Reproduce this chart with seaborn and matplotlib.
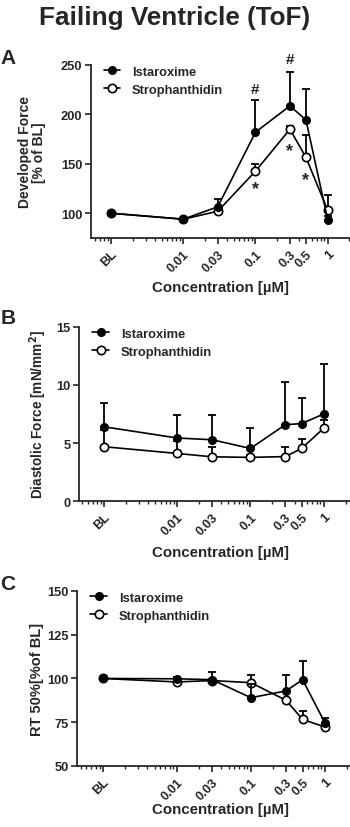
import numpy as np
import pandas as pd
import matplotlib
matplotlib.use("Agg")
import matplotlib.pyplot as plt
import seaborn as sns
from matplotlib.ticker import LogLocator, NullFormatter, FixedLocator, FixedFormatter

# ---------------- data ----------------
conc = [0.001, 0.01, 0.03, 0.1, 0.3, 0.5, 1.0]
conc_labels = ["BL", "0.01", "0.03", "0.1", "0.3", "0.5", "1"]

# Panel A: Developed force [% of BL]
dev_ist = [100, 94, 106.5, 182, 208.6, 194.4, 93.6]
dev_ist_err = [0, 1, 7.5, 33, 34, 31, 4]
dev_str = [100, 94, 102, 142.6, 185, 156.5, 103]
dev_str_err = [0, 1, 2, 7, 3, 23, 15]

# Panel B: Diastolic force [mN/mm2]
dia_ist = [6.4, 5.43, 5.28, 4.53, 6.58, 6.67, 7.5]
dia_ist_err = [2.06, 2.02, 2.17, 1.74, 3.67, 2.19, 4.28]
dia_str = [4.68, 4.1, 3.81, 3.76, 3.83, 4.53, 6.27]
dia_str_err = [1.4, 1.04, 0.81, 0.2, 0.79, 0.81, 0.73]

# Panel C: RT 50% [% of BL]
rt_ist = [100, 99.8, 99.3, 89, 92.9, 99.3, 74.7]
rt_ist_err = [0, 1.2, 4.3, 8, 8.9, 10.5, 2.7]
rt_str = [100, 98, 98.8, 97.6, 87.5, 76.6, 72.3]
rt_str_err = [0, 1, 1, 4.6, 1, 4.8, 1]

series_names = ["Istaroxime", "Strophanthidin"]

# ---------------- style ----------------
sns.set_theme(style="ticks")
plt.rcParams["font.family"] = ["Liberation Sans", "DejaVu Sans"]
plt.rcParams["font.weight"] = "bold"
plt.rcParams["axes.labelweight"] = "bold"

fig = plt.figure(figsize=(3.5, 8.28), dpi=100)

fig.text(0.5, 0.978, "Failing Ventricle (ToF)", ha="center", va="center",
         fontsize=18.8, fontweight="bold")

panels = [
    dict(letter="A", rect=[0.259, 0.7114, 0.741, 0.2089], xlim=(-3.283, 0.309),
         ylim=(75, 250), yticks=[100, 150, 200, 250],
         ylabel="Developed Force\n[% of BL]", ylabel_fs=10.0,
         ylabel_family=["Liberation Sans Narrow", "Liberation Sans", "DejaVu Sans"],
         ist=dev_ist, ist_err=dev_ist_err,
         str_=dev_str, str_err=dev_str_err, letter_y=59, xlabel_y=288, ylabel_x=32),
    dict(letter="B", rect=[0.226, 0.3937, 0.774, 0.2102], xlim=(-3.34, 0.36),
         ylim=(0, 15), yticks=[0, 5, 10, 15],
         ylabel="Diastolic Force [mN/mm$\\mathbf{^2}$]", ylabel_fs=9.8,
         ylabel_family=["Liberation Sans", "DejaVu Sans"],
         ist=dia_ist, ist_err=dia_ist_err,
         str_=dia_str, str_err=dia_str_err, letter_y=319, xlabel_y=553, ylabel_x=38),
    dict(letter="C", rect=[0.220, 0.0737, 0.780, 0.2114], xlim=(-3.35, 0.34),
         ylim=(50, 150), yticks=[50, 75, 100, 125, 150],
         ylabel="RT 50%[%of BL]", ylabel_fs=10.5,
         ylabel_family=["Liberation Sans", "DejaVu Sans"],
         ist=rt_ist, ist_err=rt_ist_err,
         str_=rt_str, str_err=rt_str_err, letter_y=585, xlabel_y=810, ylabel_x=37),
]

W, H = 350, 828
axes = []
for p in panels:
    ax = fig.add_axes(p["rect"])
    axes.append(ax)
    df = pd.DataFrame({"conc": conc * 2,
                       "value": list(p["str_"]) + list(p["ist"]),
                       "series": [series_names[1]] * len(conc) + [series_names[0]] * len(conc)})
    # error bars (upper only)
    for vals, errs, z in [(p["str_"], p["str_err"], 2), (p["ist"], p["ist_err"], 4)]:
        ax.errorbar(conc, vals, yerr=[np.zeros(len(errs)), errs], fmt="none",
                    ecolor="black", elinewidth=1.3, capsize=2.6, capthick=1.3, zorder=z)
    sns.lineplot(data=df[df.series == series_names[1]], x="conc", y="value", ax=ax,
                 color="black", lw=1.2, marker="o", markersize=6, markerfacecolor="white",
                 markeredgecolor="black", markeredgewidth=1.2, zorder=3,
                 label=series_names[1], legend=False)
    sns.lineplot(data=df[df.series == series_names[0]], x="conc", y="value", ax=ax,
                 color="black", lw=1.2, marker="o", markersize=5.5, markerfacecolor="black",
                 markeredgecolor="black", markeredgewidth=1.0, zorder=5,
                 label=series_names[0], legend=False)
    ax.set_xscale("log")
    ax.set_xlim(10 ** p["xlim"][0], 10 ** p["xlim"][1])
    ax.set_ylim(*p["ylim"])
    ax.set_yticks(p["yticks"])
    ax.xaxis.set_major_locator(FixedLocator(conc))
    ax.xaxis.set_major_formatter(FixedFormatter(conc_labels))
    ax.xaxis.set_minor_locator(LogLocator(base=10, subs=np.arange(2, 10)))
    ax.xaxis.set_minor_formatter(NullFormatter())
    for lab in ax.get_xticklabels():
        lab.set_rotation(45)
        lab.set_ha("right")
        lab.set_rotation_mode("anchor")
    ax.tick_params(axis="both", which="major", labelsize=9.3, width=1.2, length=4, pad=2)
    ax.tick_params(axis="x", which="minor", width=1.0, length=2.2)
    ax.tick_params(axis="x", which="major", pad=3)
    for lab in ax.get_xticklabels() + ax.get_yticklabels():
        lab.set_fontweight("bold")
    sns.despine(ax=ax)
    for s in ["left", "bottom"]:
        ax.spines[s].set_linewidth(1.3)
    ax.set_xlabel("")
    ax.set_ylabel("")
    fig.text(0.63, 1 - p["xlabel_y"] / H, "Concentration [µM]", ha="center", va="center",
             fontsize=10.8, fontweight="bold")
    ymid = p["rect"][1] + p["rect"][3] / 2
    fig.text(p["ylabel_x"] / W, ymid, p["ylabel"], rotation=90, ha="center", va="center",
             fontsize=p["ylabel_fs"], fontweight="bold", multialignment="center",
             family=p["ylabel_family"], linespacing=1.05)
    fig.text(8 / W, 1 - p["letter_y"] / H, p["letter"], ha="center", va="center",
             fontsize=15, fontweight="bold")
    handles, labels = ax.get_legend_handles_labels()
    order = [labels.index(n) for n in series_names]
    leg = ax.legend([handles[i] for i in order], [labels[i] for i in order],
                    loc="upper left", bbox_to_anchor=(0.02, 1.04), frameon=False,
                    fontsize=9.3, handlelength=1.3, handletextpad=0.9, labelspacing=0.45,
                    borderaxespad=0.2)
    for t in leg.get_texts():
        t.set_fontweight("bold")

# significance annotations in panel A
axA = axes[0]
sig_text = ["#", "#", "*", "*", "*"]
sig_x = [0.1, 0.3, 0.1, 0.3, 0.5]
sig_y = [226, 256, 125, 163, 134]
for t, x, y in zip(sig_text, sig_x, sig_y):
    axA.text(x, y, t, ha="center", va="center", fontsize=11 if t == "#" else 13,
             fontweight="bold", clip_on=False)

fig.savefig("out.png", dpi=100)
